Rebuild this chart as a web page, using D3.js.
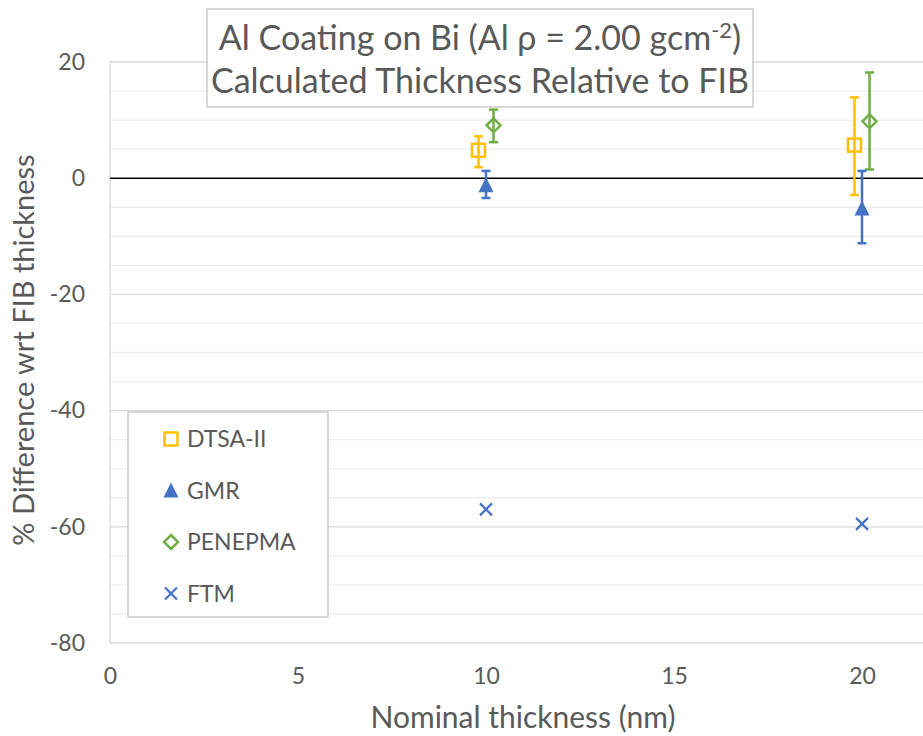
<!DOCTYPE html>
<html><head><meta charset="utf-8">
<script src="https://cdn.jsdelivr.net/npm/d3@7"></script>
<style>body{margin:0;background:#fff}svg{display:block}text{font-family:Lato,"Open Sans",sans-serif;fill:#595959}</style>
</head><body>
<svg id="c" width="923" height="736"></svg>
<script>
const seriesNames = ["DTSA-II","GMR","PENEPMA","FTM"];
const seriesColors = ["#FFC000","#4472C4","#70AD47","#4472C4"];
const seriesShapes = ["square","triangle","diamond","cross"];
const dtsaX = [9.8, 19.8], dtsaY = [4.8, 5.7], dtsaHi = [7.2, 13.9], dtsaLo = [1.9, -2.9];
const gmrX = [10, 20], gmrY = [-1.2, -5.2], gmrHi = [1.25, 1.25], gmrLo = [-3.4, -11.2];
const penX = [10.2, 20.2], penY = [9.1, 9.8], penHi = [11.8, 18.2], penLo = [6.2, 1.5];
const ftmX = [10, 20], ftmY = [-57.0, -59.5];
const xTicks = [0,5,10,15,20];
const yTicks = [20,0,-20,-40,-60,-80];
const yMinor = [15,10,5,-5,-10,-15,-25,-30,-35,-45,-50,-55,-65,-70,-75];

const svg = d3.select("#c");
const x = d3.scaleLinear().domain([0,22]).range([110, 110+22*37.6]);
const y = d3.scaleLinear().domain([-80,20]).range([643, 62]);

svg.append("g").selectAll("line").data(yMinor).join("line")
  .attr("x1",110).attr("x2",923).attr("y1",d=>y(d)).attr("y2",d=>y(d))
  .attr("stroke","#eeeeee").attr("stroke-width",1.3);
svg.append("g").selectAll("line").data(yTicks.filter(d=>d!==0)).join("line")
  .attr("x1",110).attr("x2",923).attr("y1",d=>y(d)).attr("y2",d=>y(d))
  .attr("stroke","#d9d9d9").attr("stroke-width",1.3);
svg.append("line").attr("x1",110).attr("x2",110).attr("y1",y(20)).attr("y2",y(-80))
  .attr("stroke","#d9d9d9").attr("stroke-width",1.3);
svg.append("line").attr("x1",110).attr("x2",923).attr("y1",y(0)).attr("y2",y(0))
  .attr("stroke","#000").attr("stroke-width",1.5);

const yAxis = svg.append("g").attr("transform","translate(110,0)")
  .call(d3.axisLeft(y).tickValues(yTicks).tickSize(0).tickPadding(25).tickFormat(d=>String(d)));
yAxis.select(".domain").remove();
yAxis.selectAll("text").style("font-size","23px").attr("fill","#595959");
const xAxis = svg.append("g").attr("transform","translate(0,643)")
  .call(d3.axisBottom(x).tickValues(xTicks).tickSize(0).tickPadding(25).tickFormat(d=>String(d)));
xAxis.select(".domain").remove();
xAxis.selectAll("text").style("font-size","23px").attr("fill","#595959");

svg.append("text").attr("x",523).attr("y",728).attr("text-anchor","middle")
  .style("font-size","30px").text("Nominal thickness (nm)");
svg.append("text").attr("transform","translate(34,350) rotate(-90)").attr("text-anchor","middle")
  .style("font-size","29px").text("% Difference wrt FIB thickness");

function errBars(xs, lo, hi, color){
  const g = svg.append("g").attr("stroke",color).attr("stroke-width",2.5);
  xs.forEach((xv,i)=>{
    g.append("line").attr("x1",x(xv)).attr("x2",x(xv)).attr("y1",y(lo[i])).attr("y2",y(hi[i]));
    [lo[i],hi[i]].forEach(v=>g.append("line").attr("x1",x(xv)-4.5).attr("x2",x(xv)+4.5).attr("y1",y(v)).attr("y2",y(v)));
  });
}
errBars(dtsaX,dtsaLo,dtsaHi,seriesColors[0]);
errBars(penX,penLo,penHi,seriesColors[2]);
errBars(gmrX,gmrLo,gmrHi,seriesColors[1]);

function marker(g, shape, cx, cy, color){
  if(shape==="square") g.append("rect").attr("x",cx-6.5).attr("y",cy-6.5).attr("width",13).attr("height",13)
    .attr("fill","none").attr("stroke",color).attr("stroke-width",2.5);
  else if(shape==="diamond") g.append("path").attr("d",`M${cx},${cy-7}L${cx+7},${cy}L${cx},${cy+7}L${cx-7},${cy}Z`)
    .attr("fill","none").attr("stroke",color).attr("stroke-width",2.5);
  else if(shape==="triangle") g.append("path").attr("d",`M${cx},${cy-8}L${cx+7.5},${cy+7}L${cx-7.5},${cy+7}Z`)
    .attr("fill",color);
  else g.append("path").attr("d",`M${cx-6},${cy-6}L${cx+6},${cy+6}M${cx-6},${cy+6}L${cx+6},${cy-6}`)
    .attr("stroke",color).attr("stroke-width",2.2);
}
const pts = svg.append("g");
dtsaX.forEach((v,i)=>marker(pts,"square",x(v),y(dtsaY[i]),seriesColors[0]));
penX.forEach((v,i)=>marker(pts,"diamond",x(v),y(penY[i]),seriesColors[2]));
gmrX.forEach((v,i)=>marker(pts,"triangle",x(v),y(gmrY[i]),seriesColors[1]));
ftmX.forEach((v,i)=>marker(pts,"cross",x(v),y(ftmY[i]),seriesColors[3]));

const lg = svg.append("g");
lg.append("rect").attr("x",128).attr("y",412).attr("width",200).attr("height",205)
  .attr("fill","#fff").attr("stroke","#bfbfbf").attr("stroke-width",1.2);
seriesNames.forEach((n,i)=>{
  const cy = 439 + i*51.5;
  marker(lg, seriesShapes[i], 171, cy, seriesColors[i]);
  lg.append("text").attr("x",187).attr("y",cy).attr("dy","0.36em").style("font-size","23px").text(n);
});

const tg = svg.append("g");
tg.append("rect").attr("x",207).attr("y",9).attr("width",546).attr("height",98)
  .attr("fill","#fff").attr("stroke","#bfbfbf").attr("stroke-width",1.2);
const t1 = tg.append("text").attr("x",480).attr("y",50).attr("text-anchor","middle").style("font-size","34px");
t1.append("tspan").text("Al Coating on Bi (Al ρ = 2.00 gcm");
t1.append("tspan").attr("dy",-12).style("font-size","22px").text("-2");
t1.append("tspan").attr("dy",12).text(")");
tg.append("text").attr("x",480).attr("y",93).attr("text-anchor","middle").style("font-size","34px")
  .text("Calculated Thickness Relative to FIB");
</script>
</body></html>
